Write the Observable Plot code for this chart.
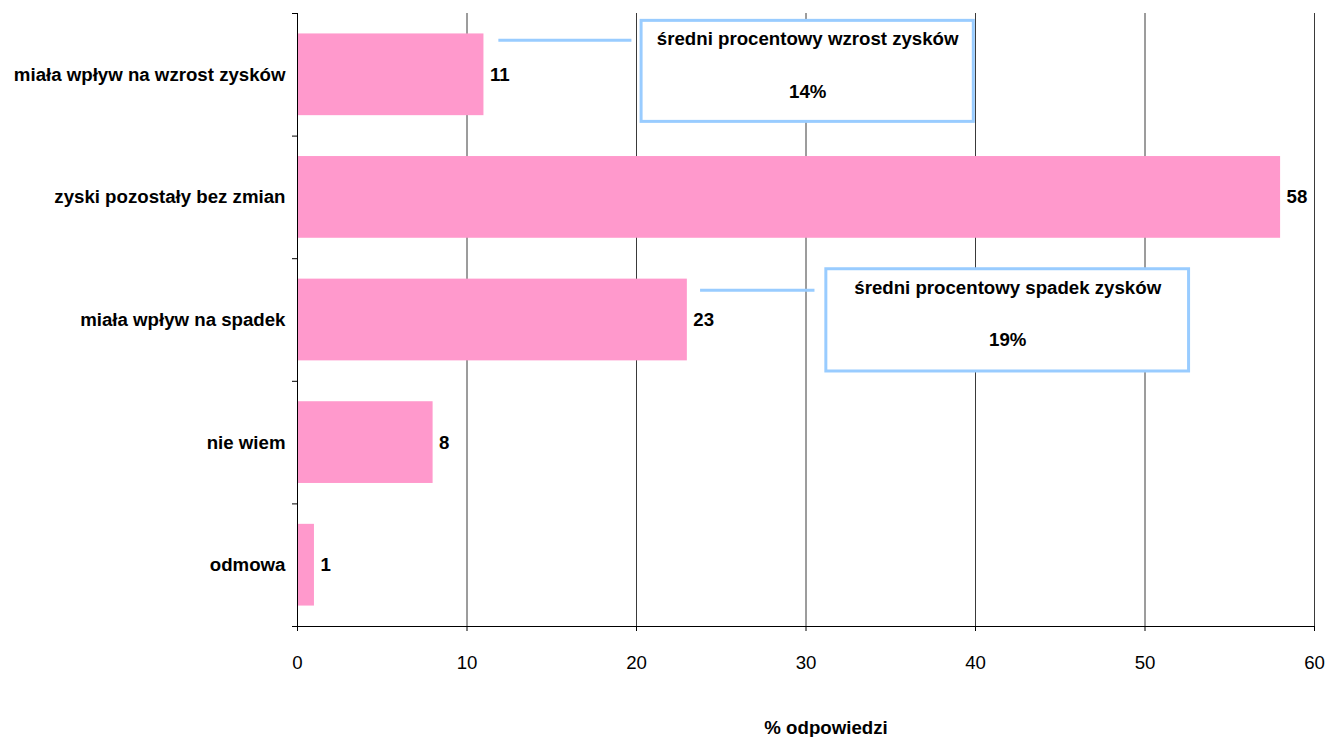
<!DOCTYPE html>
<html>
<head>
<meta charset="utf-8">
<script src="https://cdn.jsdelivr.net/npm/d3@7"></script>
<script src="https://cdn.jsdelivr.net/npm/@observablehq/plot@0.6"></script>
<style>
  html, body { margin: 0; padding: 0; background: #fff; }
  #chart { width: 1327px; height: 737px; }
</style>
</head>
<body>
<div id="chart"></div>
<script>
// Answers: how the situation affected company profits (% of responses)
const categories = [
  "miała wpływ na wzrost zysków",
  "zyski pozostały bez zmian",
  "miała wpływ na spadek",
  "nie wiem",
  "odmowa"
];
const shares = [11, 58, 23, 8, 1];
const xTicks = [0, 10, 20, 30, 40, 50, 60];
const xTitle = "% odpowiedzi";

// Callout boxes next to the first and third bars
const calloutTitles = ["średni procentowy wzrost zysków", "średni procentowy spadek zysków"];
const calloutValues = [14, 19];
const calloutRow = [0, 2];                 // row the box is attached to
const calloutX1 = [20.3, 31.2];            // box extent in % units
const calloutX2 = [39.9, 52.6];
const calloutTop = [0.06, 0.086];          // box top / bottom as a fraction of the row
const calloutBottom = [0.884, 0.92];
const leaderX1 = [11.85, 23.75];           // leader line from bar end to box
const leaderX2 = [19.7, 30.5];
const leaderY = [0.218, 0.257];

const rows = categories.map((c, i) => ({category: c, value: shares[i], i}));
const callouts = calloutTitles.map((t, k) => ({
  title: t,
  value: calloutValues[k],
  x1: calloutX1[k],
  x2: calloutX2[k],
  y1: calloutRow[k] + calloutTop[k],
  y2: calloutRow[k] + calloutBottom[k],
  lx1: leaderX1[k],
  lx2: leaderX2[k],
  ly: calloutRow[k] + leaderY[k]
}));

const pad = 1 / 6;
const font = "'Liberation Sans', Arial, Helvetica, sans-serif";
const fs = 18.67; // 14pt
const pink = "#ff99cc";
const blue = "#99ccff";

const chart = Plot.plot({
  width: 1327,
  height: 737,
  marginTop: 13,
  marginBottom: 111,
  marginLeft: 297,
  marginRight: 13,
  style: {fontFamily: font, fontSize: fs + "px", color: "#000", background: "#fff"},
  x: {domain: [0, 60], ticks: xTicks},
  y: {domain: [0, categories.length], reverse: true},
  marks: [
    // vertical gridlines
    Plot.ruleX(xTicks.filter(d => d > 0), {y1: 0, y2: categories.length, stroke: "#3a3a3a", strokeWidth: 1}),
    // bars
    Plot.rect(rows, {
      x1: 0, x2: "value",
      y1: d => d.i + pad, y2: d => d.i + 1 - pad,
      fill: pink
    }),
    // value labels
    Plot.text(rows, {
      x: "value", y: d => d.i + 0.5, text: d => String(d.value),
      textAnchor: "start", dx: 6, fontWeight: "bold", fontSize: fs, fill: "#000"
    }),
    // category labels
    Plot.text(rows, {
      x: 0, y: d => d.i + 0.5, text: "category",
      textAnchor: "end", dx: -12, fontWeight: "bold", fontSize: fs, fill: "#000"
    }),
    // axes
    Plot.ruleX([0], {y1: 0, y2: categories.length, stroke: "#000"}),
    Plot.ruleY([categories.length], {stroke: "#000"}),
    Plot.axisY({ticks: d3.range(categories.length + 1), tickSize: 5, tickFormat: () => "", stroke: "#000"}),
    Plot.axisX({ticks: xTicks, tickSize: 5, tickPadding: 24, tickFormat: d => String(d), fontSize: fs, label: null, stroke: "#000", fill: "#000"}),
    Plot.text([xTitle], {frameAnchor: "bottom", dx: 20, dy: 107, fontWeight: "bold", fontSize: fs, fill: "#000"}),
    // callouts
    Plot.link(callouts, {x1: "lx1", x2: "lx2", y1: "ly", y2: "ly", stroke: blue, strokeWidth: 3}),
    Plot.rect(callouts, {x1: "x1", x2: "x2", y1: "y1", y2: "y2", fill: "#fff", stroke: blue, strokeWidth: 3}),
    Plot.text(callouts, {
      x: d => (d.x1 + d.x2) / 2, y: d => d.y1 + 0.15, text: "title",
      fontWeight: "bold", fontSize: fs, fill: "#000"
    }),
    Plot.text(callouts, {
      x: d => (d.x1 + d.x2) / 2, y: d => d.y1 + 0.58, text: d => d.value + "%",
      fontWeight: "bold", fontSize: fs, fill: "#000"
    })
  ]
});

document.getElementById("chart").appendChild(chart);
</script>
</body>
</html>
